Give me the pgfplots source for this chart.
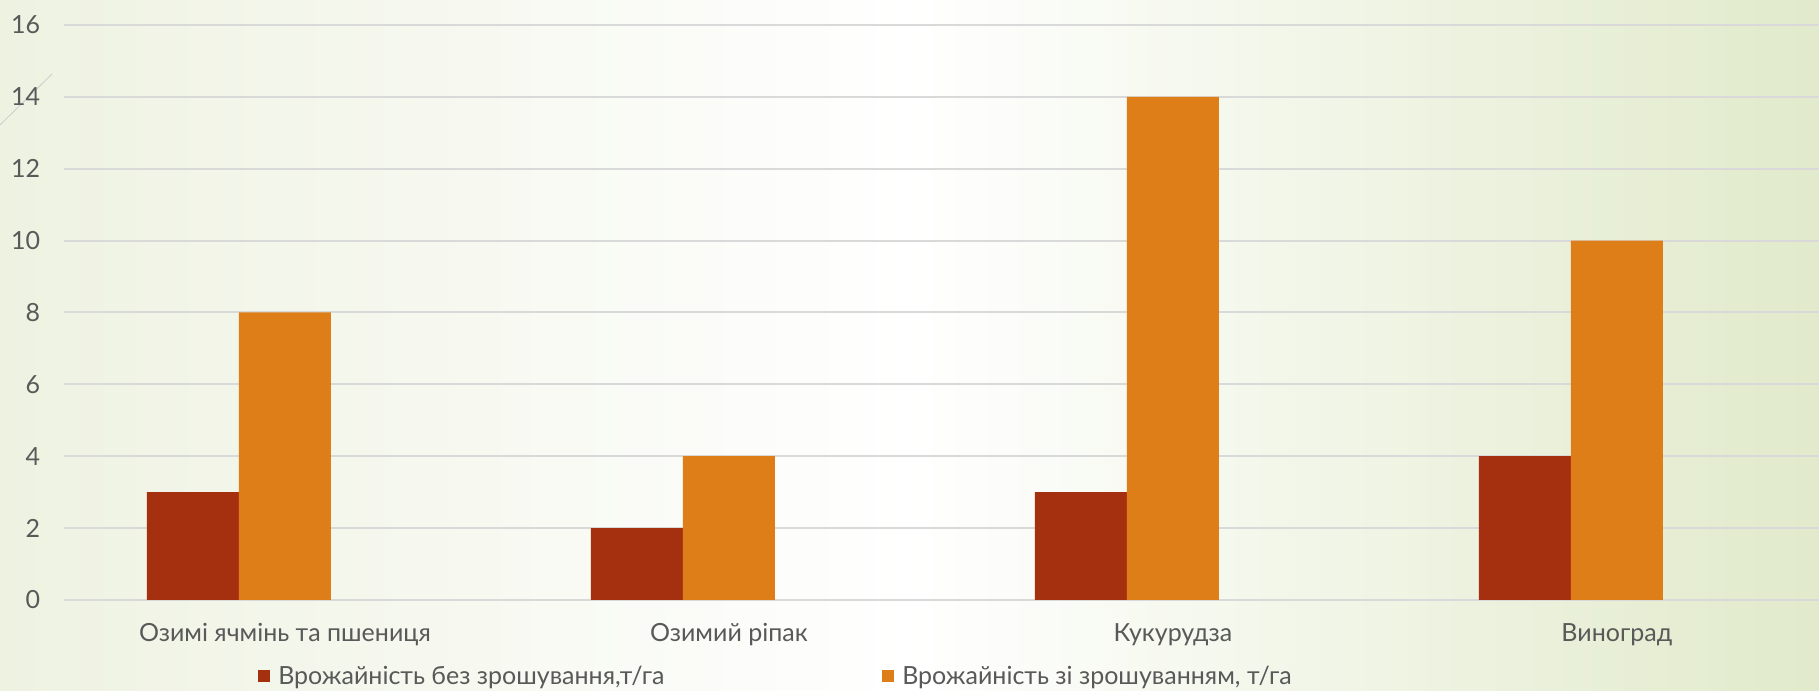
\documentclass[border=0pt]{standalone}
\usepackage{fontspec}
\setmainfont{Lato}
\usepackage{pgfplots}
\pgfplotsset{compat=1.18}
\definecolor{darkred}{HTML}{A53010}
\definecolor{orng}{HTML}{DE7E18}
\definecolor{gridgray}{HTML}{D9D9D9}
\definecolor{txt}{HTML}{595959}
\definecolor{bgleft}{HTML}{EEF2E1}
\definecolor{bgright}{HTML}{E1EACB}

\begin{document}
\begin{tikzpicture}
\useasboundingbox (0,0) rectangle (909.5bp,345.5bp);
\shade[left color=bgleft, right color=bgright, middle color=white] (0,0) rectangle (909.5bp,345.5bp);
\draw[color=black!20, line width=0.4bp] (0,283bp) -- (26bp,308.5bp);
\begin{axis}[
    at={(32bp,45.5bp)}, anchor=south west,
    scale only axis,
    width=877.5bp, height=287.5bp,
    xmin=-0.394, xmax=3.559,
    ymin=0, ymax=16,
    ybar=0pt, bar width=46bp,
    xtick={0,1,2,3},
    xticklabels={Озимі ячмінь та пшениця, Озимий ріпак, Кукурудза, Виноград},
    ytick={0,2,...,16},
    ymajorgrids,
    grid style={color=gridgray, line width=1bp},
    axis line style={draw=none},
    major tick length=0pt,
    /pgf/number format/assume math mode=true,
    tick label style={font=\fontsize{12.5bp}{15bp}\selectfont, text=txt},
    yticklabel style={anchor=east, inner sep=0pt, xshift=-11.7bp},
    xticklabel style={anchor=base, inner sep=0pt, yshift=-20.5bp, xshift=23bp},
    legend columns=2,
    legend style={draw=none, fill=none, at={(0.1105,-0.1329)}, anchor=west,
        inner sep=0pt, font=\fontsize{12.5bp}{15bp}\selectfont, text=txt,
        nodes={inner sep=0pt, text=txt},
        /tikz/every odd column/.append style={column sep=4bp},
        cells={anchor=west}},
    legend image code/.code={\fill (0bp,-3bp) rectangle (6bp,3bp);},
]
\addplot[fill=darkred, draw=none] coordinates {(0,3) (1,2) (2,3) (3,4)};
\addplot[fill=orng, draw=none] coordinates {(0,8) (1,4) (2,14) (3,10)};
\legend{\makebox[302bp][l]{Врожайність без зрошування,т/га}, {Врожайність зі зрошуванням, т/га}}
\end{axis}
\end{tikzpicture}
\end{document}
